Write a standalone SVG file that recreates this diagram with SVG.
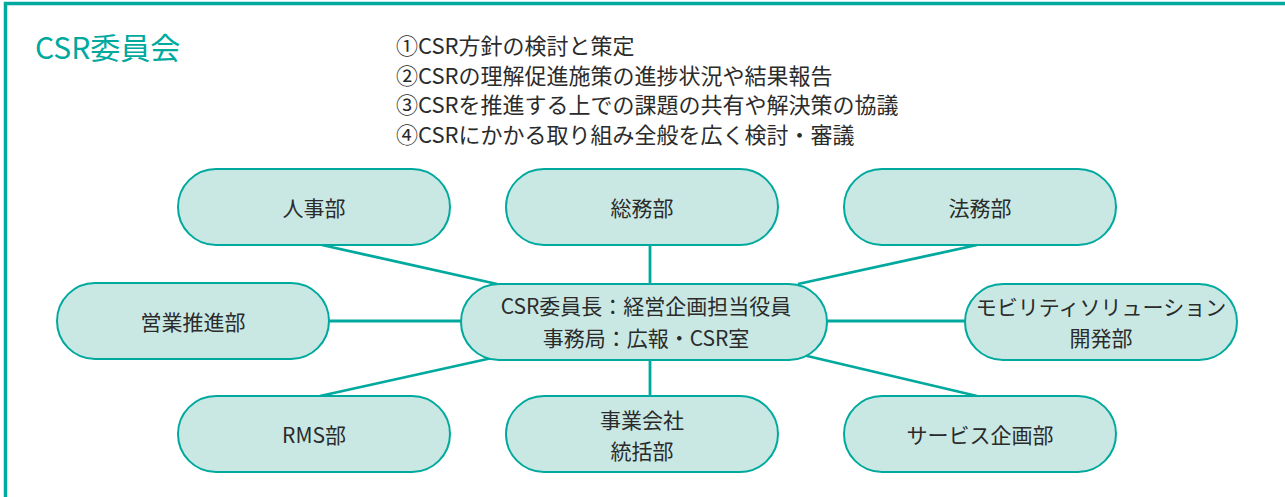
<svg xmlns="http://www.w3.org/2000/svg" width="1285" height="497" viewBox="0 0 1285 497">
<style>
.frame{stroke:#00a99d;stroke-width:3.5;fill:none}
.node rect{fill:#c9e8e4;stroke:#00a99d;stroke-width:2}
.node text{font-family:"Noto Sans CJK JP","Noto Sans",sans-serif;font-size:21px;fill:#2b2b2b;text-anchor:middle;dominant-baseline:central}
.conn line{stroke:#00a99d;stroke-width:2.8}
.title{font-family:"Noto Sans CJK JP","Noto Sans",sans-serif;font-size:30px;fill:#00a99d}
.duties text{font-family:"Noto Sans CJK JP","Noto Sans",sans-serif;font-size:22px;fill:#2b2b2b;dominant-baseline:central}
</style>
<rect width="1285" height="497" fill="#ffffff"/>
<path class="frame" d="M5.5 497 V3.5 H1285"/>
<text class="title" x="35" y="59">CSR委員会</text>
<g class="duties">
<text x="396" y="44">①CSR方針の検討と策定</text>
<text x="396" y="74">②CSRの理解促進施策の進捗状況や結果報告</text>
<text x="396" y="103">③CSRを推進する上での課題の共有や解決策の協議</text>
<text x="396" y="133">④CSRにかかる取り組み全般を広く検討・審議</text>
</g>
<g class="conn">
<line x1="322" y1="245" x2="497" y2="284"/>
<line x1="650" y1="245" x2="650" y2="284"/>
<line x1="977" y1="245" x2="798" y2="284"/>
<line x1="329" y1="321" x2="461" y2="321"/>
<line x1="827" y1="321" x2="965" y2="321"/>
<line x1="320" y1="396" x2="492" y2="358"/>
<line x1="650" y1="360" x2="650" y2="396"/>
<line x1="803" y1="355" x2="977" y2="396"/>
</g>
<g id="node-jinji" class="node"><rect x="178" y="169" width="272" height="76" rx="38"/><text x="314" y="207">人事部</text></g>
<g id="node-somu" class="node"><rect x="506" y="169" width="272" height="76" rx="38"/><text x="642" y="207">総務部</text></g>
<g id="node-homu" class="node"><rect x="844" y="169" width="272" height="76" rx="38"/><text x="980" y="207">法務部</text></g>
<g id="node-eigyo" class="node"><rect x="57" y="283" width="272" height="76" rx="38"/><text x="193" y="321">営業推進部</text></g>
<g id="node-center" class="node"><rect x="461" y="284" width="366" height="76" rx="38"/><text x="646" y="305">CSR委員長：経営企画担当役員</text><text x="646" y="337">事務局：広報・CSR室</text></g>
<g id="node-mobility" class="node"><rect x="965" y="284" width="272" height="76" rx="38"/><text x="1101" y="306">モビリティソリューション</text><text x="1101" y="337">開発部</text></g>
<g id="node-rms" class="node"><rect x="178" y="396" width="272" height="76" rx="38"/><text x="314" y="434">RMS部</text></g>
<g id="node-jigyo" class="node"><rect x="506" y="396" width="272" height="76" rx="38"/><text x="642" y="419">事業会社</text><text x="642" y="450">統括部</text></g>
<g id="node-service" class="node"><rect x="844" y="396" width="272" height="76" rx="38"/><text x="980" y="434">サービス企画部</text></g>
</svg>
